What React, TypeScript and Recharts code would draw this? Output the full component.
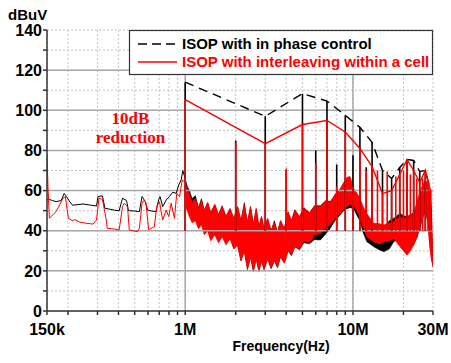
import React from "react";
import {
  ComposedChart,
  Line,
  Area,
  XAxis,
  YAxis,
  CartesianGrid,
  ReferenceLine,
} from "recharts";

// frequency in MHz, level in dBuV

// 150k - 1M, single traces
const BLACK_LF: [number, number][] = [
  [0.15, 55.3], [0.155, 55.6], [0.162, 55.0], [0.17, 54.5], [0.182, 55.0],
  [0.19, 58.6], [0.196, 57.0], [0.203, 55.0], [0.213, 52.7], [0.246, 53.3],
  [0.27, 52.8], [0.296, 52.3], [0.302, 57.0], [0.321, 57.4], [0.332, 51.2],
  [0.356, 50.7], [0.38, 50.2], [0.404, 50.0], [0.423, 56.2], [0.447, 55.0],
  [0.459, 50.0], [0.5, 49.8], [0.533, 49.5], [0.553, 57.0], [0.578, 54.5],
  [0.597, 50.3], [0.63, 49.8], [0.67, 49.5], [0.695, 55.6], [0.708, 57.0],
  [0.734, 52.0], [0.77, 55.3], [0.805, 57.0], [0.843, 59.2], [0.883, 58.6],
  [0.915, 62.8], [0.946, 65.3], [0.967, 70.0], [1.0, 66.0],
];

const RED_LF: [number, number][] = [
  [0.15, 78], [0.152, 62], [0.155, 46.2], [0.17, 49.5], [0.187, 56.2],
  [0.193, 57], [0.201, 46.2], [0.213, 45], [0.22, 45.5], [0.235, 44.3],
  [0.257, 43.7], [0.282, 43.3], [0.296, 45.3], [0.306, 56.2], [0.321, 55.6],
  [0.337, 46.2], [0.343, 41.2], [0.38, 40.8], [0.404, 40.4], [0.423, 52],
  [0.433, 53.7], [0.453, 52], [0.464, 40.4], [0.52, 39.5], [0.533, 41.2],
  [0.553, 53.7], [0.571, 55.3], [0.584, 53.7], [0.605, 40.5], [0.655, 42],
  [0.676, 52], [0.702, 54.5], [0.734, 45.3], [0.77, 50.3], [0.798, 47],
  [0.824, 53.7], [0.863, 46.2], [0.89, 58.6], [0.925, 57], [0.96, 65.3],
  [1.0, 64],
];

// 1M - 30M, dense noise: [freq, low, high]
const BLACK_BAND: [number, number, number][] = [
  [1.0, 55, 66], [1.03, 52, 62], [1.06, 49, 60], [1.1, 46, 56], [1.15, 46, 57.5],
  [1.2, 42, 51.5], [1.25, 44, 56], [1.3, 39, 50], [1.36, 41, 54], [1.42, 36, 49],
  [1.5, 39, 53], [1.58, 35, 48], [1.66, 38, 52.5], [1.75, 34, 47], [1.85, 37, 51],
  [1.95, 31, 46], [2.05, 33, 52], [2.15, 25, 45], [2.25, 30, 54], [2.35, 20.5, 44],
  [2.45, 27, 52], [2.55, 19.6, 43], [2.65, 26, 51], [2.75, 19.6, 42], [2.85, 25, 47],
  [2.95, 20.5, 41], [3.1, 26, 46], [3.25, 21, 40], [3.4, 25, 45], [3.55, 21.5, 39],
  [3.7, 27, 45], [3.9, 23.8, 41], [4.1, 30, 49.5], [4.3, 27.5, 45], [4.5, 32, 50.5],
  [4.8, 30.5, 47], [5.1, 34, 51.5], [5.5, 33.5, 49], [5.9, 35.5, 52.5], [6.4, 35.4, 52.5],
  [6.9, 38.5, 55], [7.3, 41, 54.5], [7.8, 45, 57], [8.4, 48, 58.6], [8.8, 50, 58],
  [9.2, 51, 58], [9.6, 51.5, 58], [10.1, 51, 57], [10.5, 48, 56], [11, 45, 54],
  [11.5, 39, 50], [12.1, 34.5, 46], [13.3, 32, 42], [14.3, 30.5, 42], [15.3, 29.5, 42],
  [16.5, 31, 45], [17.5, 34.5, 46.2], [19.1, 36.2, 48.7], [20, 34, 47.5], [21, 33, 47],
  [22, 32, 48], [23, 32.9, 49], [24.2, 37, 53], [25.3, 42.8, 57.8], [26.2, 47, 61],
  [27, 50.3, 63], [28, 44, 61], [28.7, 34, 58], [29.3, 28, 50], [30, 22, 25],
];

const RED_BAND: [number, number, number][] = [
  [1.0, 52, 64], [1.03, 50, 60], [1.06, 47, 58], [1.1, 44, 54], [1.15, 45, 56],
  [1.2, 41, 51], [1.25, 43, 55], [1.3, 38, 50], [1.36, 40, 54], [1.42, 35, 49],
  [1.5, 38, 53], [1.58, 34, 48], [1.66, 37, 52], [1.75, 33, 47], [1.85, 36, 51],
  [1.95, 31, 46], [2.05, 33, 52], [2.15, 25, 45], [2.25, 30, 53], [2.35, 21, 44],
  [2.45, 27, 52], [2.55, 20, 43], [2.65, 26, 51], [2.75, 20, 42], [2.85, 25, 47],
  [2.95, 21, 41], [3.1, 26, 46], [3.25, 21.5, 40], [3.4, 25, 44], [3.55, 22, 39],
  [3.7, 27, 45], [3.9, 24, 41], [4.1, 30, 49], [4.3, 28, 45], [4.5, 32, 50],
  [4.8, 31, 47], [5.1, 35, 51], [5.5, 34, 49], [5.9, 38, 52], [6.4, 38.7, 52],
  [6.9, 42, 55], [7.3, 43, 54], [7.8, 46, 58], [8.4, 48.7, 61], [8.8, 51, 64],
  [9.2, 52, 66.5], [9.6, 53, 67], [10.1, 53, 61], [10.5, 50, 59], [11, 47, 56],
  [11.5, 42, 52], [12.1, 37, 48.5], [13.3, 34.5, 43.7], [14.3, 33.5, 43.5], [15.3, 34.5, 42.8],
  [16.5, 35, 44], [17.5, 36.2, 44.5], [19.1, 32, 47], [20, 30, 46], [21, 27.9, 47],
  [22, 30, 47], [23, 33, 48.7], [24.2, 38, 55], [25.3, 42.8, 60.3], [26.2, 47, 63],
  [27, 50.3, 65.3], [28, 44, 63], [28.7, 32, 60], [29.3, 26, 52], [30, 22, 24],
];

// harmonic spikes: [freq, peak]
const BLACK_SPIKES: [number, number][] = [
  [1, 114], [2, 85], [3, 97], [4, 70], [5, 108.3], [6, 80], [7, 104.6], [8, 73],
  [9, 97.5], [10, 77.6], [11, 91.5], [12, 71.6], [13, 84], [15, 70], [17, 66],
  [19, 71.5], [21, 75.5], [23, 75], [25, 69.5], [27, 70], [29, 60],
];

const RED_SPIKES: [number, number][] = [
  [1, 105.3], [2, 84], [3, 83.4], [4, 71], [5, 92.9], [6, 73.6], [7, 94.9], [8, 62],
  [9, 89.2], [10, 62], [11, 81], [12, 70], [13, 72], [14, 70], [15, 58.5], [16, 69.5],
  [17, 60], [18, 67], [19, 68], [20, 70], [21, 75.5], [22, 68], [23, 70], [24, 66],
  [25, 64], [26, 66], [27, 70.2], [28, 65], [29, 60],
];

// peak envelopes
const BLACK_ENV: [number, number][] = [
  [1, 114], [3, 97], [5, 108.3], [7, 104.6], [9, 97.5], [11, 91.5], [13, 84],
  [15, 70], [17, 66], [19, 71.5], [21, 75.5], [23, 75], [25, 69.5], [27, 70], [29, 60],
];

const RED_ENV: [number, number][] = [
  [1, 105.3], [3, 83.4], [5, 92.9], [7, 94.9], [9, 89.2], [11, 81], [13, 72],
  [15, 58.5], [17, 60], [19, 68], [21, 75.5], [23, 70], [25, 64], [27, 70.2], [29, 60],
];

const SPIKE_BASE = 40;

const X_TICKS = [0.15, 0.2, 0.3, 0.4, 0.5, 0.6, 0.7, 0.8, 0.9, 1, 2, 3, 4, 5, 6, 7, 8, 9, 10, 20, 30];
const X_LABELS: Record<string, string> = { "0.15": "150k", "1": "1M", "10": "10M", "30": "30M" };
const Y_TICKS = [0, 10, 20, 30, 40, 50, 60, 70, 80, 90, 100, 110, 120, 130, 140];
const MAJOR_X = [1, 10];
const MAJOR_Y = [20, 40, 60, 80, 100, 120];

const SANS = "'Liberation Sans', Arial, Helvetica, sans-serif";
const SERIF = "'Liberation Serif', 'Times New Roman', serif";

const pts = (a: [number, number][]) => a.map(([f, v]) => ({ f, v }));
const band = (a: [number, number, number][]) => a.map(([f, lo, hi]) => ({ f, r: [lo, hi] }));
const spikes = (a: [number, number][]) =>
  a.flatMap(([f, top]) => [
    { f, v: SPIKE_BASE },
    { f, v: top },
    { f, v: null },
  ]);

const tickStyle = { fontFamily: SANS, fontWeight: 700, fontSize: 16, fill: "#000" };

export default function App() {
  return (
    <div style={{ position: "absolute", left: 0, top: 0, width: 451, height: 363, background: "#fff" }}>
      <ComposedChart width={451} height={363} margin={{ top: 30, right: 18, bottom: 22, left: 0 }}>
        <CartesianGrid stroke="#c4c4c4" strokeDasharray="2 2" />
        {MAJOR_Y.map(y => (
          <ReferenceLine key={"y" + y} y={y} stroke="#a8a8a8" strokeWidth={1.5} />
        ))}
        {MAJOR_X.map(x => (
          <ReferenceLine key={"x" + x} x={x} stroke="#a8a8a8" strokeWidth={1.5} />
        ))}
        <XAxis
          dataKey="f"
          type="number"
          scale="log"
          domain={[0.15, 30]}
          allowDataOverflow
          ticks={X_TICKS}
          interval={0}
          tickFormatter={(v: number) => X_LABELS[String(v)] ?? ""}
          tick={tickStyle}
          tickSize={4}
          tickMargin={9}
          height={30}
          stroke="#333"
          strokeWidth={1.5}
        />
        <YAxis
          type="number"
          domain={[0, 140]}
          ticks={Y_TICKS}
          interval={0}
          tickFormatter={(v: number) => (v % 20 === 0 ? String(v) : "")}
          tick={tickStyle}
          tickSize={4}
          tickMargin={1}
          width={47}
          stroke="#333"
          strokeWidth={1.5}
        />

        <Line data={pts(BLACK_LF)} dataKey="v" stroke="#000" strokeWidth={1} dot={false} isAnimationActive={false} />
        <Area data={band(BLACK_BAND)} dataKey="r" stroke="#000" strokeWidth={0.5} fill="#000" fillOpacity={1} isAnimationActive={false} />
        <Line data={spikes(BLACK_SPIKES)} dataKey="v" stroke="#000" strokeWidth={1.6} dot={false} connectNulls={false} isAnimationActive={false} />
        <Line data={pts(BLACK_ENV)} dataKey="v" stroke="#000" strokeWidth={1.4} strokeDasharray="9 6" dot={false} isAnimationActive={false} />

        <Line data={pts(RED_LF)} dataKey="v" stroke="#ff0000" strokeWidth={1} dot={false} isAnimationActive={false} />
        <Area data={band(RED_BAND)} dataKey="r" stroke="#ff0000" strokeWidth={0.8} fill="#ff0000" fillOpacity={1} isAnimationActive={false} />
        <Line data={spikes(RED_SPIKES)} dataKey="v" stroke="#ff0000" strokeWidth={1.6} dot={false} connectNulls={false} isAnimationActive={false} />
        <Line data={pts(RED_ENV)} dataKey="v" stroke="#ff0000" strokeWidth={1.4} dot={false} isAnimationActive={false} />
      </ComposedChart>

      <svg width={451} height={363} style={{ position: "absolute", left: 0, top: 0, pointerEvents: "none" }}>
        <text x={8} y={19.5} fontFamily={SANS} fontWeight={700} fontSize={15} fill="#000">dBuV</text>
        <text x={281} y={351} textAnchor="middle" fontFamily={SANS} fontWeight={700} fontSize={14} fill="#000">
          Frequency(Hz)
        </text>
        <text x={130.5} y={123.5} textAnchor="middle" fontFamily={SERIF} fontWeight={700} fontSize={17} fill="#ff0000">10dB</text>
        <text x={130.5} y={143} textAnchor="middle" fontFamily={SERIF} fontWeight={700} fontSize={17} fill="#ff0000">reduction</text>

        <rect x={129.5} y={30.5} width={303} height={44} fill="#fff" stroke="#333" strokeWidth={1.2} />
        <line x1={138} y1={44} x2={177} y2={44} stroke="#000" strokeWidth={1.3} strokeDasharray="9 5" />
        <text x={182} y={49.3} fontFamily={SANS} fontWeight={700} fontSize={15} fill="#000">ISOP with in phase control</text>
        <line x1={138} y1={62} x2={177} y2={62} stroke="#ff0000" strokeWidth={1.3} />
        <text x={182} y={67} fontFamily={SANS} fontWeight={700} fontSize={15} fill="#ff0000">ISOP with interleaving within a cell</text>
      </svg>
    </div>
  );
}
